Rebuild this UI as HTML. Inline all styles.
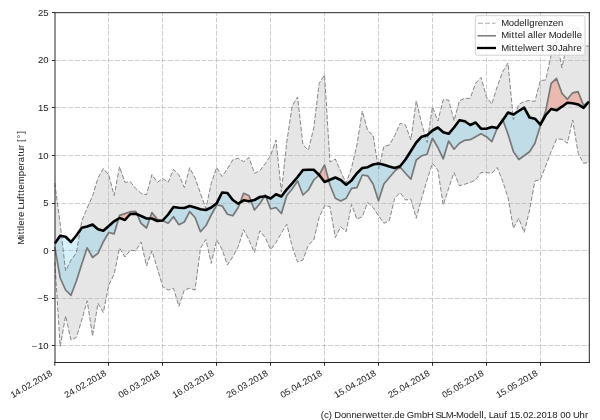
<!DOCTYPE html>
<html><head><meta charset="utf-8"><style>
html,body{margin:0;padding:0;background:#fff;}
body{width:600px;height:420px;overflow:hidden;}
svg{display:block;will-change:transform;font-family:"Liberation Sans",sans-serif;}
text{stroke:#262626;stroke-width:0.04px;paint-order:stroke;}
</style></head><body>
<svg width="600" height="420" viewBox="0 0 600 420">
<rect width="600" height="420" fill="#fff"/>
<polygon points="54.8,183 60.19,224 65.59,271 70.98,260 76.38,253 81.77,221 87.17,208 92.56,196 97.96,178 103.35,168.5 108.75,175 114.14,195.5 119.54,166.7 124.93,182.3 130.33,181.8 135.72,188.5 141.12,193.3 146.51,194.8 151.91,174.6 157.31,182.3 162.7,178.5 168.09,182.3 173.49,169.6 178.88,174.6 184.28,187.5 189.68,167.7 195.07,178 200.46,193.3 205.86,208.5 211.25,183.3 216.65,167.5 222.04,176.5 227.44,168.7 232.83,159.8 238.23,158.3 243.62,161.7 249.02,157.5 254.41,173.3 259.81,170.8 265.2,163.8 270.6,155.5 276,140 281.39,192 286.78,142 292.18,106 297.57,97 302.97,145 308.36,150 313.76,128 319.15,83.3 324.55,75 329.94,162 335.34,159 340.74,171.5 346.13,183 351.52,168 356.92,145 362.31,111 367.71,130.8 373.1,135.3 378.5,169 383.89,146.5 389.29,145 394.69,135.8 400.08,123.3 405.47,125 410.87,140 416.26,100.8 421.66,123.3 427.06,142.5 432.45,107 437.84,121 443.24,99.6 448.63,100 454.03,120.8 459.42,100.8 464.82,98.3 470.21,98.3 475.61,83.3 481,77.5 486.4,96.7 491.79,104.2 497.19,86.7 502.58,72 507.98,63 513.38,119.5 518.77,104.5 524.16,101.5 529.56,100.5 534.95,101.5 540.35,80.5 545.74,80 551.14,55 556.53,39.3 561.93,67.8 567.32,42 572.72,30 578.11,27.3 583.51,46 588.9,46 588.9,162.5 583.51,163.3 578.11,153.3 572.72,120 567.32,143.3 561.93,139.2 556.53,139.2 551.14,151.7 545.74,165.8 540.35,179.5 534.95,181 529.56,210 524.16,232.5 518.77,218.3 513.38,228.3 507.98,197.5 502.58,181 497.19,167.5 491.79,173.3 486.4,172.5 481,172.5 475.61,180 470.21,182.5 464.82,184.2 459.42,185.8 454.03,172.5 448.63,188.3 443.24,205 437.84,170 432.45,163.3 427.06,180 421.66,198.3 416.26,218.3 410.87,199.2 405.47,200 400.08,192.5 394.69,198.3 389.29,220.8 383.89,223.3 378.5,215.8 373.1,207.5 367.71,202.5 362.31,216.7 356.92,219.2 351.52,204.5 346.13,231.7 340.74,226.7 335.34,237.5 329.94,206.7 324.55,205.8 319.15,217.5 313.76,240 308.36,245 302.97,260 297.57,262 292.18,246.7 286.78,224.2 281.39,233 276,242.5 270.6,249.5 265.2,237.5 259.81,230.8 254.41,252.5 249.02,240 243.62,229.7 238.23,246.7 232.83,256.7 227.44,265 222.04,249.2 216.65,240 211.25,263.3 205.86,239.5 200.46,248.3 195.07,290 189.68,288.3 184.28,290 178.88,306.3 173.49,288.3 168.09,290 162.7,286.7 157.31,268.3 151.91,250.8 146.51,266 141.12,242 135.72,250.8 130.33,250.2 124.93,257 119.54,248 114.14,274.2 108.75,285 103.35,312.5 97.96,303.3 92.56,336 87.17,300.8 81.77,320 76.38,337.5 70.98,340 65.59,315.8 60.19,346.5 54.8,262" fill="rgba(128,128,128,0.2)"/>
<polygon points="54.8,243.5 60.19,235.8 65.59,236.8 70.98,242 76.38,235.5 81.77,227.8 87.17,226.5 92.56,224.6 97.96,229.3 103.35,230.8 108.75,226 114.14,221.3 118.61,218.57 119.54,218 124.93,220 130.33,214 135.72,213.8 137.1,214.36 141.12,216 146.51,218.5 149.82,218.5 151.91,218.5 157.31,221 161.93,220.57 162.7,220.5 168.09,214.5 173.49,207 178.88,207.7 184.28,208 189.68,206 195.07,207.5 200.46,209.2 205.86,210 211.25,207.5 216.65,203.3 222.04,192.5 227.44,193 232.83,200 238.23,203.7 240.13,202.5 243.62,200.3 249.02,201.3 250.93,200.84 254.41,200 259.81,197 264.33,196.41 265.2,196.3 265.8,196.54 270.6,198.5 276,194.3 281.39,196.5 286.78,189.3 292.18,183.3 297.57,177 302.97,170 308.36,169.7 313.76,169.7 319.15,175 324.55,182 328.66,180.25 329.94,179.7 335.34,177.5 340.74,180 346.13,184.7 351.52,180.4 356.92,173.3 362.31,168 367.71,167.2 373.1,164.5 378.5,163.5 383.89,164.8 389.29,166.5 394.69,168 400.08,166.3 405.47,159.5 410.87,151 416.26,142.5 421.66,136.7 427.06,135.2 432.45,130.5 437.84,127.5 443.24,132.3 448.63,133.8 454.03,127.5 459.42,120.3 464.82,121.3 470.21,125 475.61,122.5 481,128.7 486.4,128.7 491.79,127 497.19,128 498.27,126.48 502.58,120.4 502.87,119.98 507.98,112.5 513.38,114.5 518.77,111 524.16,107.7 529.56,117.5 534.95,118.7 540.35,124.7 541.47,122.69 545.74,115 551.14,109 556.53,110.3 561.93,106.7 567.32,102.8 572.72,103.2 578.11,104.4 583.51,107.8 588.9,101.7 588.9,101.7 583.51,107.8 578.11,104.4 572.72,103.2 567.32,102.8 561.93,106.7 556.53,110.3 551.14,109 545.74,115 541.47,122.69 540.35,125.8 534.95,143.3 529.56,151.7 524.16,155.8 518.77,159.5 513.38,151.5 507.98,134 502.87,119.98 502.58,120.4 498.27,126.48 497.19,128.3 491.79,141.7 486.4,136.7 481,133.7 475.61,136.7 470.21,139.7 464.82,140.3 459.42,143.3 454.03,149.2 448.63,141 443.24,158.8 437.84,147.5 432.45,138.3 427.06,154.2 421.66,155.8 416.26,160 410.87,179.2 405.47,173.3 400.08,167 394.69,171.2 389.29,177.5 383.89,184 378.5,200.8 373.1,184 367.71,175.8 362.31,175 356.92,187.7 351.52,188.3 346.13,198.3 340.74,201 335.34,198.3 329.94,185 328.66,180.25 324.55,182 319.15,175 313.76,180 308.36,190 302.97,195 297.57,181 292.18,189 286.78,195.5 281.39,213.5 276,207.5 270.6,209 265.8,196.54 265.2,196.3 264.33,196.41 259.81,203.7 254.41,210 250.93,200.84 249.02,201.3 243.62,200.3 240.13,202.5 238.23,207.5 232.83,215.8 227.44,214.2 222.04,205.8 216.65,205 211.25,215 205.86,225.8 200.46,231.7 195.07,217.5 189.68,211.7 184.28,222 178.88,224.7 173.49,216.7 168.09,223.3 162.7,220.8 161.93,220.57 157.31,221 151.91,218.5 149.82,218.5 146.51,228 141.12,223.3 137.1,214.36 135.72,213.8 130.33,214 124.93,220 119.54,218 118.61,218.57 114.14,233.8 108.75,232.5 103.35,241.7 97.96,253.3 92.56,257.5 87.17,247.8 81.77,264 76.38,281 70.98,295.3 65.59,290 60.19,278 54.8,247" fill="rgba(40,180,230,0.2)"/>
<polygon points="54.8,243.5 60.19,235.8 65.59,236.8 70.98,242 76.38,235.5 81.77,227.8 87.17,226.5 92.56,224.6 97.96,229.3 103.35,230.8 108.75,226 114.14,221.3 118.61,218.57 119.54,215.4 124.93,213.6 130.33,211.7 135.72,211.3 137.1,214.36 141.12,216 146.51,218.5 149.82,218.5 151.91,212.5 157.31,219.2 161.93,220.57 162.7,220.5 168.09,214.5 173.49,207 178.88,207.7 184.28,208 189.68,206 195.07,207.5 200.46,209.2 205.86,210 211.25,207.5 216.65,203.3 222.04,192.5 227.44,193 232.83,200 238.23,203.7 240.13,202.5 243.62,193.3 249.02,195.8 250.93,200.84 254.41,200 259.81,197 264.33,196.41 265.2,195 265.8,196.54 270.6,198.5 276,194.3 281.39,196.5 286.78,189.3 292.18,183.3 297.57,177 302.97,170 308.36,169.7 313.76,169.7 319.15,175 324.55,165 328.66,180.25 329.94,179.7 335.34,177.5 340.74,180 346.13,184.7 351.52,180.4 356.92,173.3 362.31,168 367.71,167.2 373.1,164.5 378.5,163.5 383.89,164.8 389.29,166.5 394.69,168 400.08,166.3 405.47,159.5 410.87,151 416.26,142.5 421.66,136.7 427.06,135.2 432.45,130.5 437.84,127.5 443.24,132.3 448.63,133.8 454.03,127.5 459.42,120.3 464.82,121.3 470.21,125 475.61,122.5 481,128.7 486.4,128.7 491.79,127 497.19,128 498.27,126.48 502.58,119.2 502.87,119.98 507.98,112.5 513.38,114.5 518.77,111 524.16,107.7 529.56,117.5 534.95,118.7 540.35,124.7 541.47,122.69 545.74,110.8 551.14,83.3 556.53,78.5 561.93,93.3 567.32,99.2 572.72,92.8 578.11,91.7 583.51,105.4 588.9,101.7 588.9,101.7 583.51,107.8 578.11,104.4 572.72,103.2 567.32,102.8 561.93,106.7 556.53,110.3 551.14,109 545.74,115 541.47,122.69 540.35,124.7 534.95,118.7 529.56,117.5 524.16,107.7 518.77,111 513.38,114.5 507.98,112.5 502.87,119.98 502.58,120.4 498.27,126.48 497.19,128 491.79,127 486.4,128.7 481,128.7 475.61,122.5 470.21,125 464.82,121.3 459.42,120.3 454.03,127.5 448.63,133.8 443.24,132.3 437.84,127.5 432.45,130.5 427.06,135.2 421.66,136.7 416.26,142.5 410.87,151 405.47,159.5 400.08,166.3 394.69,168 389.29,166.5 383.89,164.8 378.5,163.5 373.1,164.5 367.71,167.2 362.31,168 356.92,173.3 351.52,180.4 346.13,184.7 340.74,180 335.34,177.5 329.94,179.7 328.66,180.25 324.55,182 319.15,175 313.76,169.7 308.36,169.7 302.97,170 297.57,177 292.18,183.3 286.78,189.3 281.39,196.5 276,194.3 270.6,198.5 265.8,196.54 265.2,196.3 264.33,196.41 259.81,197 254.41,200 250.93,200.84 249.02,201.3 243.62,200.3 240.13,202.5 238.23,203.7 232.83,200 227.44,193 222.04,192.5 216.65,203.3 211.25,207.5 205.86,210 200.46,209.2 195.07,207.5 189.68,206 184.28,208 178.88,207.7 173.49,207 168.09,214.5 162.7,220.5 161.93,220.57 157.31,221 151.91,218.5 149.82,218.5 146.51,218.5 141.12,216 137.1,214.36 135.72,213.8 130.33,214 124.93,220 119.54,218 118.61,218.57 114.14,221.3 108.75,226 103.35,230.8 97.96,229.3 92.56,224.6 87.17,226.5 81.77,227.8 76.38,235.5 70.98,242 65.59,236.8 60.19,235.8 54.8,243.5" fill="rgba(239,132,110,0.45)"/>
<g stroke="rgba(176,176,176,0.62)" stroke-width="1" stroke-dasharray="5,1.667" fill="none">
<line x1="54.8" y1="60.5" x2="589.3" y2="60.5"/>
<line x1="54.8" y1="107.5" x2="589.3" y2="107.5"/>
<line x1="54.8" y1="155.5" x2="589.3" y2="155.5"/>
<line x1="54.8" y1="203.5" x2="589.3" y2="203.5"/>
<line x1="54.8" y1="250.5" x2="589.3" y2="250.5"/>
<line x1="54.8" y1="298.5" x2="589.3" y2="298.5"/>
<line x1="54.8" y1="345.5" x2="589.3" y2="345.5"/>
<line x1="108.5" y1="362.5" x2="108.5" y2="12.7"/>
<line x1="162.5" y1="362.5" x2="162.5" y2="12.7"/>
<line x1="216.5" y1="362.5" x2="216.5" y2="12.7"/>
<line x1="270.5" y1="362.5" x2="270.5" y2="12.7"/>
<line x1="324.5" y1="362.5" x2="324.5" y2="12.7"/>
<line x1="378.5" y1="362.5" x2="378.5" y2="12.7"/>
<line x1="432.5" y1="362.5" x2="432.5" y2="12.7"/>
<line x1="486.5" y1="362.5" x2="486.5" y2="12.7"/>
<line x1="540.5" y1="362.5" x2="540.5" y2="12.7"/>
</g>
<g fill="none" stroke-linejoin="round">
<polyline points="54.8,183 60.19,224 65.59,271 70.98,260 76.38,253 81.77,221 87.17,208 92.56,196 97.96,178 103.35,168.5 108.75,175 114.14,195.5 119.54,166.7 124.93,182.3 130.33,181.8 135.72,188.5 141.12,193.3 146.51,194.8 151.91,174.6 157.31,182.3 162.7,178.5 168.09,182.3 173.49,169.6 178.88,174.6 184.28,187.5 189.68,167.7 195.07,178 200.46,193.3 205.86,208.5 211.25,183.3 216.65,167.5 222.04,176.5 227.44,168.7 232.83,159.8 238.23,158.3 243.62,161.7 249.02,157.5 254.41,173.3 259.81,170.8 265.2,163.8 270.6,155.5 276,140 281.39,192 286.78,142 292.18,106 297.57,97 302.97,145 308.36,150 313.76,128 319.15,83.3 324.55,75 329.94,162 335.34,159 340.74,171.5 346.13,183 351.52,168 356.92,145 362.31,111 367.71,130.8 373.1,135.3 378.5,169 383.89,146.5 389.29,145 394.69,135.8 400.08,123.3 405.47,125 410.87,140 416.26,100.8 421.66,123.3 427.06,142.5 432.45,107 437.84,121 443.24,99.6 448.63,100 454.03,120.8 459.42,100.8 464.82,98.3 470.21,98.3 475.61,83.3 481,77.5 486.4,96.7 491.79,104.2 497.19,86.7 502.58,72 507.98,63 513.38,119.5 518.77,104.5 524.16,101.5 529.56,100.5 534.95,101.5 540.35,80.5 545.74,80 551.14,55 556.53,39.3 561.93,67.8 567.32,42 572.72,30 578.11,27.3 583.51,46 588.9,46" stroke="#878787" stroke-width="1" stroke-dasharray="4.6,1.9"/>
<polyline points="54.8,262 60.19,346.5 65.59,315.8 70.98,340 76.38,337.5 81.77,320 87.17,300.8 92.56,336 97.96,303.3 103.35,312.5 108.75,285 114.14,274.2 119.54,248 124.93,257 130.33,250.2 135.72,250.8 141.12,242 146.51,266 151.91,250.8 157.31,268.3 162.7,286.7 168.09,290 173.49,288.3 178.88,306.3 184.28,290 189.68,288.3 195.07,290 200.46,248.3 205.86,239.5 211.25,263.3 216.65,240 222.04,249.2 227.44,265 232.83,256.7 238.23,246.7 243.62,229.7 249.02,240 254.41,252.5 259.81,230.8 265.2,237.5 270.6,249.5 276,242.5 281.39,233 286.78,224.2 292.18,246.7 297.57,262 302.97,260 308.36,245 313.76,240 319.15,217.5 324.55,205.8 329.94,206.7 335.34,237.5 340.74,226.7 346.13,231.7 351.52,204.5 356.92,219.2 362.31,216.7 367.71,202.5 373.1,207.5 378.5,215.8 383.89,223.3 389.29,220.8 394.69,198.3 400.08,192.5 405.47,200 410.87,199.2 416.26,218.3 421.66,198.3 427.06,180 432.45,163.3 437.84,170 443.24,205 448.63,188.3 454.03,172.5 459.42,185.8 464.82,184.2 470.21,182.5 475.61,180 481,172.5 486.4,172.5 491.79,173.3 497.19,167.5 502.58,181 507.98,197.5 513.38,228.3 518.77,218.3 524.16,232.5 529.56,210 534.95,181 540.35,179.5 545.74,165.8 551.14,151.7 556.53,139.2 561.93,139.2 567.32,143.3 572.72,120 578.11,153.3 583.51,163.3 588.9,162.5" stroke="#878787" stroke-width="1" stroke-dasharray="4.6,1.9"/>
<polyline points="54.8,247 60.19,278 65.59,290 70.98,295.3 76.38,281 81.77,264 87.17,247.8 92.56,257.5 97.96,253.3 103.35,241.7 108.75,232.5 114.14,233.8 119.54,215.4 124.93,213.6 130.33,211.7 135.72,211.3 141.12,223.3 146.51,228 151.91,212.5 157.31,219.2 162.7,220.8 168.09,223.3 173.49,216.7 178.88,224.7 184.28,222 189.68,211.7 195.07,217.5 200.46,231.7 205.86,225.8 211.25,215 216.65,205 222.04,205.8 227.44,214.2 232.83,215.8 238.23,207.5 243.62,193.3 249.02,195.8 254.41,210 259.81,203.7 265.2,195 270.6,209 276,207.5 281.39,213.5 286.78,195.5 292.18,189 297.57,181 302.97,195 308.36,190 313.76,180 319.15,175 324.55,165 329.94,185 335.34,198.3 340.74,201 346.13,198.3 351.52,188.3 356.92,187.7 362.31,175 367.71,175.8 373.1,184 378.5,200.8 383.89,184 389.29,177.5 394.69,171.2 400.08,167 405.47,173.3 410.87,179.2 416.26,160 421.66,155.8 427.06,154.2 432.45,138.3 437.84,147.5 443.24,158.8 448.63,141 454.03,149.2 459.42,143.3 464.82,140.3 470.21,139.7 475.61,136.7 481,133.7 486.4,136.7 491.79,141.7 497.19,128.3 502.58,119.2 507.98,134 513.38,151.5 518.77,159.5 524.16,155.8 529.56,151.7 534.95,143.3 540.35,125.8 545.74,110.8 551.14,83.3 556.53,78.5 561.93,93.3 567.32,99.2 572.72,92.8 578.11,91.7 583.51,105.4 588.9,101.7" stroke="#787878" stroke-width="1.7"/>
<polyline points="54.8,243.5 60.19,235.8 65.59,236.8 70.98,242 76.38,235.5 81.77,227.8 87.17,226.5 92.56,224.6 97.96,229.3 103.35,230.8 108.75,226 114.14,221.3 119.54,218 124.93,220 130.33,214 135.72,213.8 141.12,216 146.51,218.5 151.91,218.5 157.31,221 162.7,220.5 168.09,214.5 173.49,207 178.88,207.7 184.28,208 189.68,206 195.07,207.5 200.46,209.2 205.86,210 211.25,207.5 216.65,203.3 222.04,192.5 227.44,193 232.83,200 238.23,203.7 243.62,200.3 249.02,201.3 254.41,200 259.81,197 265.2,196.3 270.6,198.5 276,194.3 281.39,196.5 286.78,189.3 292.18,183.3 297.57,177 302.97,170 308.36,169.7 313.76,169.7 319.15,175 324.55,182 329.94,179.7 335.34,177.5 340.74,180 346.13,184.7 351.52,180.4 356.92,173.3 362.31,168 367.71,167.2 373.1,164.5 378.5,163.5 383.89,164.8 389.29,166.5 394.69,168 400.08,166.3 405.47,159.5 410.87,151 416.26,142.5 421.66,136.7 427.06,135.2 432.45,130.5 437.84,127.5 443.24,132.3 448.63,133.8 454.03,127.5 459.42,120.3 464.82,121.3 470.21,125 475.61,122.5 481,128.7 486.4,128.7 491.79,127 497.19,128 502.58,120.4 507.98,112.5 513.38,114.5 518.77,111 524.16,107.7 529.56,117.5 534.95,118.7 540.35,124.7 545.74,115 551.14,109 556.53,110.3 561.93,106.7 567.32,102.8 572.72,103.2 578.11,104.4 583.51,107.8 588.9,101.7" stroke="#000" stroke-width="2.6"/>
</g>
<g stroke="#262626" stroke-width="1" stroke-linecap="square">
<line x1="55" y1="12.7" x2="55" y2="362.5"/>
<line x1="589.3" y1="12.7" x2="589.3" y2="362.5"/>
<line x1="55" y1="12.7" x2="589.3" y2="12.7"/>
<line x1="55" y1="362.5" x2="589.3" y2="362.5"/>
</g>
<g stroke="#262626" stroke-width="1">
<line x1="52" y1="12.5" x2="54.8" y2="12.5"/>
<line x1="52" y1="60.5" x2="54.8" y2="60.5"/>
<line x1="52" y1="107.5" x2="54.8" y2="107.5"/>
<line x1="52" y1="155.5" x2="54.8" y2="155.5"/>
<line x1="52" y1="203.5" x2="54.8" y2="203.5"/>
<line x1="52" y1="250.5" x2="54.8" y2="250.5"/>
<line x1="52" y1="298.5" x2="54.8" y2="298.5"/>
<line x1="52" y1="345.5" x2="54.8" y2="345.5"/>
<line x1="54.8" y1="362.5" x2="54.8" y2="365.7"/>
<line x1="108.5" y1="362.5" x2="108.5" y2="365.7"/>
<line x1="162.5" y1="362.5" x2="162.5" y2="365.7"/>
<line x1="216.5" y1="362.5" x2="216.5" y2="365.7"/>
<line x1="270.5" y1="362.5" x2="270.5" y2="365.7"/>
<line x1="324.5" y1="362.5" x2="324.5" y2="365.7"/>
<line x1="378.5" y1="362.5" x2="378.5" y2="365.7"/>
<line x1="432.5" y1="362.5" x2="432.5" y2="365.7"/>
<line x1="486.5" y1="362.5" x2="486.5" y2="365.7"/>
<line x1="540.5" y1="362.5" x2="540.5" y2="365.7"/>
</g>
<g font-size="8.9" fill="#262626">
<text transform="translate(48.6,15.8) scale(1.07,1)" x="-9.97 -4.97" y="0">25</text>
<text transform="translate(48.6,63.37) scale(1.07,1)" x="-9.97 -4.97" y="0">20</text>
<text transform="translate(48.6,110.94) scale(1.07,1)" x="-9.97 -4.97" y="0">15</text>
<text transform="translate(48.6,158.51) scale(1.07,1)" x="-9.97 -4.97" y="0">10</text>
<text transform="translate(48.6,206.08) scale(1.07,1)" x="-4.97" y="0">5</text>
<text transform="translate(48.6,253.65) scale(1.07,1)" x="-4.97" y="0">0</text>
<text transform="translate(48.6,301.22) scale(1.07,1)" x="-10.88 -4.97" y="0">−5</text>
<text transform="translate(48.6,348.79) scale(1.07,1)" x="-15.88 -9.97 -4.97" y="0">−10</text>
</g>
<g font-size="8.9" fill="#262626">
<text transform="translate(52.9,375) rotate(-30) scale(1.04,1)" x="-44.7 -39.73 -34.76 -32.28 -27.31 -22.35 -19.86 -14.89 -9.93 -4.96" y="0">14.02.2018</text>
<text transform="translate(106.85,375) rotate(-30) scale(1.04,1)" x="-44.7 -39.73 -34.76 -32.28 -27.31 -22.35 -19.86 -14.89 -9.93 -4.96" y="0">24.02.2018</text>
<text transform="translate(160.8,375) rotate(-30) scale(1.04,1)" x="-44.7 -39.73 -34.76 -32.28 -27.31 -22.35 -19.86 -14.89 -9.93 -4.96" y="0">06.03.2018</text>
<text transform="translate(214.75,375) rotate(-30) scale(1.04,1)" x="-44.7 -39.73 -34.76 -32.28 -27.31 -22.35 -19.86 -14.89 -9.93 -4.96" y="0">16.03.2018</text>
<text transform="translate(268.7,375) rotate(-30) scale(1.04,1)" x="-44.7 -39.73 -34.76 -32.28 -27.31 -22.35 -19.86 -14.89 -9.93 -4.96" y="0">26.03.2018</text>
<text transform="translate(322.65,375) rotate(-30) scale(1.04,1)" x="-44.7 -39.73 -34.76 -32.28 -27.31 -22.35 -19.86 -14.89 -9.93 -4.96" y="0">05.04.2018</text>
<text transform="translate(376.6,375) rotate(-30) scale(1.04,1)" x="-44.7 -39.73 -34.76 -32.28 -27.31 -22.35 -19.86 -14.89 -9.93 -4.96" y="0">15.04.2018</text>
<text transform="translate(430.55,375) rotate(-30) scale(1.04,1)" x="-44.7 -39.73 -34.76 -32.28 -27.31 -22.35 -19.86 -14.89 -9.93 -4.96" y="0">25.04.2018</text>
<text transform="translate(484.5,375) rotate(-30) scale(1.04,1)" x="-44.7 -39.73 -34.76 -32.28 -27.31 -22.35 -19.86 -14.89 -9.93 -4.96" y="0">05.05.2018</text>
<text transform="translate(538.45,375) rotate(-30) scale(1.04,1)" x="-44.7 -39.73 -34.76 -32.28 -27.31 -22.35 -19.86 -14.89 -9.93 -4.96" y="0">15.05.2018</text>
</g>
<g font-size="8.9" fill="#262626"><text transform="translate(24.2,244.4) rotate(-90) scale(1.07,1)" x="-0.28 6.97 9.38 12.5 15.41 17.47 22.54 25.53 30.39 32.63 37.29 42.37 45.26 48.3 51.07 56.15 63.77 68.73 73.8 76.88 82.11 84.94 90.09 93.23 95.73 99.03 103.42" y="0">Mittlere Lufttemperatur [°]</text></g>
<g>
<rect x="475.3" y="15.7" width="109.7" height="39.5" rx="2" ry="2" fill="rgba(255,255,255,0.8)" stroke="#d0d0d0" stroke-width="1"/>
<line x1="478" y1="23.2" x2="495.5" y2="23.2" stroke="#aaaaaa" stroke-width="1.1" stroke-dasharray="5,2"/>
<line x1="477.5" y1="35.8" x2="496" y2="35.8" stroke="#808080" stroke-width="1.6"/>
<line x1="477" y1="48" x2="496" y2="48" stroke="#000" stroke-width="2.3"/>
<g font-size="8.9" fill="#262626">
<text transform="translate(501.5,25.8) scale(1.07,1)" x="-0.31 6.73 11.64 16.57 21.57 23.76 25.87 30.98 33.95 38.78 43.59 47.84 52.76" y="0">Modellgrenzen</text>
<text transform="translate(501.5,38.3) scale(1.07,1)" x="-0.31 6.9 9.29 12.38 15.11 20.12 22.22 24.64 29.64 31.83 33.86 38.9 42.01 44.19 51.23 56.14 61.07 66.07 68.26 70.29" y="0">Mittel aller Modelle</text>
<text transform="translate(501.5,50.8) scale(1.07,1)" x="-0.31 6.9 9.29 12.38 15.11 20.12 22.21 28.59 33.63 37.04 39.84 42.36 47.37 52.37 52.73 57.12 62.03 67.14 70.1" y="0">Mittelwert 30 Jahre</text>
</g>
</g>
<g font-size="8.9" fill="#262626"><text transform="translate(320.8,418) scale(1.07,1)" x="0 2.96 7.42 10.38 12.65 18.78 23.64 28.59 33.46 38.46 41.52 47.85 53.02 56.08 58.77 63.77 66.5 68.62 73.5 78.38 80.42 87 94.51 99.18 105.33 107.32 112.46 116.77 123.77 126.32 133.3 138.17 143.05 148.02 150.18 152.26 154.74 156.92 161.48 166.35 171.43 174.05 176.53 181.49 186.46 188.94 193.91 198.87 201.35 206.32 211.28 216.25 221.21 223.69 228.66 233.62 235.74 241.8 246.87" y="0">(c) Donnerwetter.de GmbH SLM-Modell, Lauf 15.02.2018 00 Uhr</text></g>
</svg>
</body></html>
